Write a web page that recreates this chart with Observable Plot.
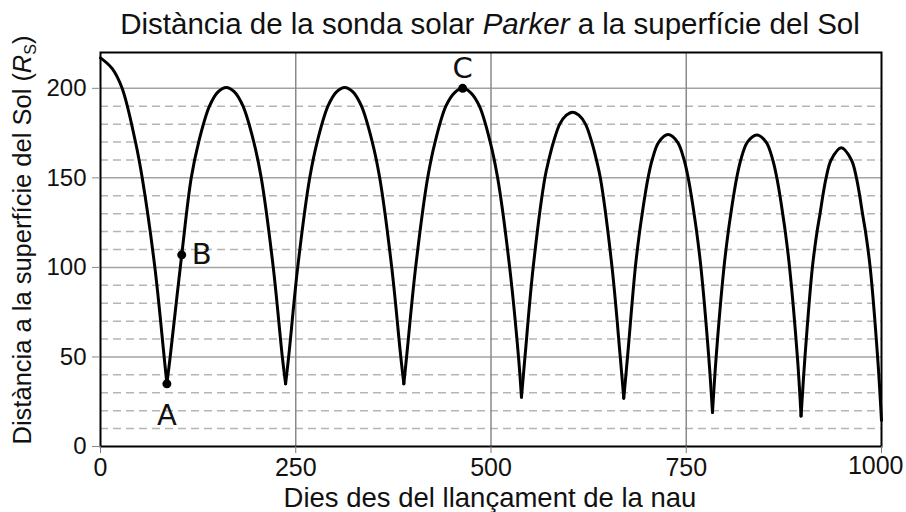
<!DOCTYPE html>
<html>
<head>
<meta charset="utf-8">
<script src="https://cdn.jsdelivr.net/npm/d3@7"></script>
<script src="https://cdn.jsdelivr.net/npm/@observablehq/plot@0.6"></script>
<style>
  html, body { margin: 0; padding: 0; background: #fff; }
  #chart svg { display: block; }
</style>
</head>
<body>
<div id="chart"></div>
<script>
// Days since launch
const day = [
  0, 15, 27.7, 44.8, 53.4, 69.6, 81.5, 85,
  89.2, 104, 116.2, 125.7, 139.5, 150.5, 161, 171.5, 182.5, 196.3, 205.8, 221.2, 232.8, 237,
  240.9, 252.5, 267.9, 277.4, 291.2, 302.2, 312.7, 323.2, 334.2, 348, 357.5, 372.9, 384.5, 388.4,
  391.9, 403.5, 418.9, 428.4, 442.2, 453.2, 463.7, 474.2, 485.2, 499, 508.5, 523.9, 535.2, 539,
  543.5, 554, 569, 574, 580, 588, 596.5, 604.5, 612.5, 621, 629, 635, 640, 655, 665.5, 670,
  674.8, 684.8, 690.3, 693.6, 697.1, 701.1, 706.3, 714.8, 726.8, 738.8, 747.3, 752.5, 756.5, 760, 763.3, 768.8, 778.8, 783.6,
  788.3, 798.3, 803.8, 807.1, 810.6, 814.6, 819.8, 828.3, 840.3, 852.3, 860.8, 866, 870, 873.5, 876.8, 882.3, 892.3, 897,
  902, 911.5, 917.5, 921.3, 924.9, 929.1, 935.5, 948.5, 961.5, 967.9, 972.1, 975.7, 979.5, 985.5, 995, 1000
];
// Distance to the Sun's surface (solar radii)
const dist = [
  217, 211, 200, 170, 150, 100, 50, 35,
  50, 107, 150, 170, 190, 198, 200.5, 198, 190, 170, 150, 100, 50, 35,
  50, 100, 150, 170, 190, 198, 200.5, 198, 190, 170, 150, 100, 50, 35,
  50, 100, 150, 170, 190, 197.5, 200, 197.5, 190, 170, 150, 100, 50, 27.5,
  50, 100, 150, 160, 170, 180, 185, 186.7, 185, 180, 170, 160, 150, 100, 50, 27,
  50, 100, 120, 130, 140, 150, 160, 170, 174.2, 170, 160, 150, 140, 130, 120, 100, 50, 19,
  50, 100, 120, 130, 140, 150, 160, 170, 174, 170, 160, 150, 140, 130, 120, 100, 50, 17,
  50, 100, 120, 130, 140, 150, 160, 166.8, 160, 150, 140, 130, 120, 100, 50, 14.5
];
// Labelled points
const pointName = ["A", "B", "C"];
const pointDay = [85, 104, 463.7];
const pointDist = [35, 107, 200];
// Ticks
const xTicks = [0, 250, 500, 750, 1000];
const yTicks = [0, 50, 100, 150, 200];
const yMinor = [10, 20, 30, 40, 60, 70, 80, 90, 110, 120, 130, 140, 160, 170, 180, 190];

// split the curve at each perihelion so the cusps stay sharp
const rows = [];
let seg = 0;
day.forEach((d, i) => {
  rows.push({day: d, dist: dist[i], seg});
  if (i > 0 && i < day.length - 1 && dist[i] < dist[i - 1] && dist[i] < dist[i + 1]) {
    seg++;
    rows.push({day: d, dist: dist[i], seg});
  }
});
const pts = pointName.map((n, i) => ({name: n, day: pointDay[i], dist: pointDist[i]}));
const labelFont = "'DejaVu Sans', sans-serif";

const svg = Plot.plot({
  width: 906,
  height: 512,
  marginTop: 52,
  marginBottom: 66,
  marginLeft: 100,
  marginRight: 25,
  style: {fontFamily: "'Liberation Sans', Arial, Helvetica, sans-serif", background: "#fff", color: "#111"},
  x: {domain: [0, 1000]},
  y: {domain: [0, 220]},
  marks: [
    Plot.ruleY(yMinor, {stroke: "#b5b5b5", strokeWidth: 1.5, strokeDasharray: "8,5"}),
    Plot.ruleY(yTicks.filter(v => v > 0), {stroke: "#a3a3a3", strokeWidth: 1.5}),
    Plot.ruleX(xTicks.filter(v => v > 0 && v < 1000), {stroke: "#8a8a8a", strokeWidth: 1.5}),
    Plot.line(rows, {x: "day", y: "dist", z: "seg", curve: "catmull-rom", stroke: "#000", strokeWidth: 3}),
    Plot.dot(pts, {x: "day", y: "dist", r: 4.5, fill: "#000"}),
    Plot.text(pts.filter(d => d.name === "A"), {x: "day", y: "dist", text: "name", dy: 32, fontSize: 29, fontFamily: labelFont, fill: "#111"}),
    Plot.text(pts.filter(d => d.name === "B"), {x: "day", y: "dist", text: "name", dx: 10, textAnchor: "start", fontSize: 29, fontFamily: labelFont, fill: "#111"}),
    Plot.text(pts.filter(d => d.name === "C"), {x: "day", y: "dist", text: "name", dy: -20, fontSize: 29, fontFamily: labelFont, fill: "#111"}),
    Plot.frame({stroke: "#000", strokeWidth: 2}),
    Plot.axisX(xTicks, {tickSize: 7, tickPadding: 5, fontSize: 25, label: null, stroke: "#777",
      tickFormat: d => (d === 1000 ? "" : String(d))}),
    Plot.text(xTicks.filter(d => d === 1000), {x: d => d, frameAnchor: "bottom", lineAnchor: "top",
      dy: 10, dx: 22, textAnchor: "end", fontSize: 25, text: d => String(d), fill: "#111"}),
    Plot.axisY(yTicks, {tickSize: 8, tickPadding: 6, fontSize: 24, label: null, stroke: "#888"})
  ]
});
document.getElementById("chart").append(svg);

const s = d3.select(svg);
// title
const t = s.append("text")
  .attr("x", 490).attr("y", 34)
  .attr("text-anchor", "middle")
  .attr("font-size", 29.5)
  .attr("fill", "#111");
t.append("tspan").text("Distància de la sonda solar ");
t.append("tspan").attr("font-style", "italic").text("Parker");
t.append("tspan").text(" a la superfície del Sol");

// x axis title
s.append("text")
  .attr("x", 490).attr("y", 507)
  .attr("text-anchor", "middle")
  .attr("font-size", 27.5)
  .attr("fill", "#111")
  .text("Dies des del llançament de la nau");

// y axis title
const yt = s.append("text")
  .attr("transform", "translate(31,240) rotate(-90)")
  .attr("text-anchor", "middle")
  .attr("font-size", 25.5)
  .attr("fill", "#111");
yt.append("tspan").text("Distància a la superfície del Sol (");
yt.append("tspan").attr("font-style", "italic").text("R");
yt.append("tspan").attr("font-size", 16).attr("dy", 5).text("S");
yt.append("tspan").attr("dy", -5).text(")");
</script>
</body>
</html>
